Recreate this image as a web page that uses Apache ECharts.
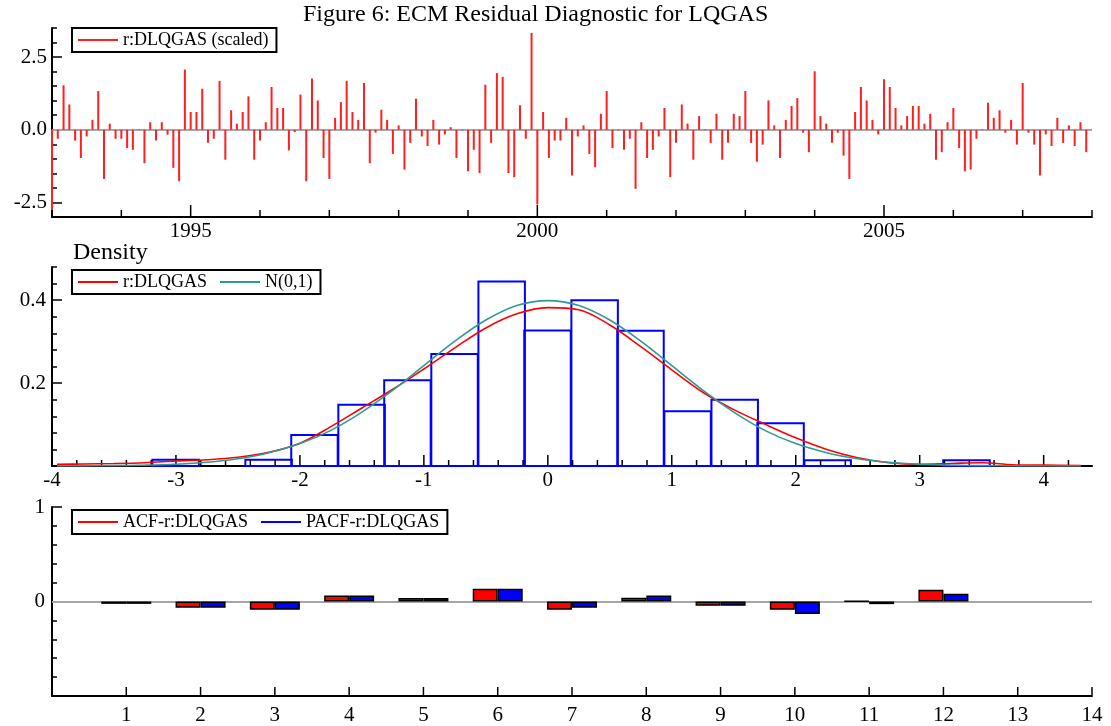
<!DOCTYPE html>
<html>
<head>
<meta charset="utf-8">
<title>ECM Residual Diagnostic for LQGAS</title>
<script src="https://cdn.jsdelivr.net/npm/echarts@6/dist/echarts.min.js"></script>
<style>
  html, body { margin: 0; padding: 0; background: #fff; }
  #main { width: 1111px; height: 726px; }
</style>
</head>
<body>
<div id="main"></div>
<script>
// scaled residuals r:DLQGAS, monthly, one array per year (Jan..Dec)
const res1993 = [-2.78, -0.31, 1.53, 0.87, -0.37, -0.97, -0.23, 0.34, 1.33, -1.69, 0.21, -0.31]
const res1994 = [-0.31, -0.63, -0.69, 0.02, -1.15, 0.26, -0.37, 0.26, -0.17, -1.31, -1.77, 2.07]
const res1995 = [0.61, 0.61, 1.41, -0.45, -0.31, 1.68, -1.03, 0.67, 0.21, 0.61, 1.15, -1.03]
const res1996 = [-0.37, 0.26, 1.47, 0.75, 0.75, -0.71, -0.08, 1.21, -1.77, 1.76, 1.01, -0.97]
const res1997 = [-1.69, 0.41, 0.95, 1.68, 0.61, 0.34, 1.61, -1.15, -0.10, 0.69, 0.34, -0.83]
const res1998 = [0.15, -1.37, -0.45, 1.07, -0.23, -0.56, 0.34, -0.51, -0.16, 0.09, -0.97, -0.02]
const res1999 = [-1.43, -0.69, -1.49, 1.55, -0.45, 1.95, 1.82, -1.49, -1.63, 0.84, -0.31, 3.33]
const res2000 = [-2.57, 0.61, -0.97, -0.37, -0.37, 0.41, -1.57, -0.23, 0.15, -0.83, -1.29, 0.55]
const res2001 = [1.33, -0.63, -0.02, -0.69, -0.31, -2.03, 0.26, -0.97, -0.69, -0.23, 0.75, -1.63]
const res2002 = [-0.45, 0.87, 0.21, -1.03, 0.47, 0.02, -0.45, 0.55, -1.03, -0.45, 0.55, 0.47]
const res2003 = [1.33, -0.45, -1.10, -0.51, 1.01, 0.15, -0.97, 0.34, 0.82, 1.09, -0.10, -0.77]
const res2004 = [2.01, 0.47, 0.21, -0.45, -0.10, -0.89, -1.69, 0.61, 1.47, 1.01, 0.34, -0.16]
const res2005 = [1.74, 1.47, 0.75, 0.15, 0.47, 0.82, 0.82, 0.21, 0.55, -1.03, -0.77, 0.26]
const res2006 = [0.75, -0.63, -1.43, -1.37, -0.31, 0.02, 0.93, 0.41, 0.67, -0.10, 0.34, -0.51]
const res2007 = [1.61, -0.10, -0.51, -1.57, -0.16, -0.56, 0.41, -0.45, 0.15, -0.56, 0.26, -0.77]
const residuals = [].concat(res1993, res1994, res1995, res1996, res1997, res1998, res1999,
  res2000, res2001, res2002, res2003, res2004, res2005, res2006, res2007)
const startYear = 1993

// histogram of residuals (density scale)
const binStart = [-3.19, -2.44, -2.07, -1.69, -1.32, -0.94, -0.56, -0.19, 0.19, 0.56, 0.94, 1.32, 1.69, 2.07, 3.19]
const binDensity = [0.015, 0.015, 0.075, 0.148, 0.207, 0.270, 0.445, 0.327, 0.400, 0.326, 0.132, 0.160, 0.103, 0.014, 0.014]
const binWidth = 0.375

// density curves read at these points
const curveX = [-3.96, -3.75, -3.5, -3.25, -3.0, -2.75, -2.5, -2.25, -2.0, -1.75, -1.5, -1.25, -1.0, -0.75, -0.5, -0.25,
  0, 0.25, 0.5, 0.75, 1.0, 1.25, 1.5, 1.75, 2.0, 2.25, 2.5, 2.75, 3.0, 3.25, 3.5, 3.75, 4.0, 4.3]
const kdeDensity = [0.004, 0.005, 0.006, 0.008, 0.012, 0.015, 0.021, 0.033, 0.055, 0.095, 0.140, 0.185, 0.234, 0.285, 0.333, 0.367,
  0.382, 0.377, 0.340, 0.288, 0.232, 0.178, 0.136, 0.101, 0.068, 0.040, 0.020, 0.008, 0.004, 0.006, 0.008, 0.003, 0.002, 0.001]
const normalDensity = [0.0002, 0.0004, 0.0009, 0.002, 0.0044, 0.009, 0.0175, 0.032, 0.054, 0.086, 0.13, 0.183, 0.242, 0.301, 0.352, 0.387,
  0.399, 0.387, 0.352, 0.301, 0.242, 0.183, 0.13, 0.086, 0.054, 0.032, 0.0175, 0.009, 0.0044, 0.002, 0.0009, 0.0004, 0.0001, 0]

// correlogram
const lags = [1, 2, 3, 4, 5, 6, 7, 8, 9, 10, 11, 12]
const acf = [-0.025, -0.066, -0.087, 0.063, 0.038, 0.136, -0.087, 0.039, -0.046, -0.088, 0.003, 0.124]
const pacf = [-0.025, -0.066, -0.087, 0.063, 0.038, 0.136, -0.067, 0.064, -0.046, -0.131, -0.028, 0.081]

// tick labels
const yearTicks = [1993, 1994, 1995, 1996, 1997, 1998, 1999, 2000, 2001, 2002, 2003, 2004, 2005, 2006, 2007, 2008]
const yearLabels = [1995, 2000, 2005]
const resTicks = [-2.5, 0, 2.5]
const resMinor = [-3, -2, -1.5, -1, -0.5, 0.5, 1, 1.5, 2, 3, 3.5]
const densXTicks = [-4, -3, -2, -1, 0, 1, 2, 3, 4]
const densYTicks = [0.2, 0.4]
const densYMinor = [0.04, 0.08, 0.12, 0.16, 0.24, 0.28, 0.32, 0.36, 0.44, 0.48]
const lagTicks = [1, 2, 3, 4, 5, 6, 7, 8, 9, 10, 11, 12, 13, 14]
const corrTicks = [0, 1]
const corrMinor = [-0.8, -0.6, -0.4, -0.2, 0.2, 0.4, 0.6, 0.8]

const font = 'Liberation Serif'
const black = '#000'
const tickStyle = { color: black, width: 1.5 }

// bottom-axis tick positions and their lengths in px
const yearTickLen = yearTicks.map(y => (yearLabels.indexOf(y) >= 0 ? 11 : 6))
const densTickPos = []
const densTickLen = []
for (let k = -20; k <= 21; k++) {
  densTickPos.push(Math.round(k * 20) / 100)
  densTickLen.push(k % 5 === 0 ? 10 : 5)
}
const lagTickLen = lagTicks.map(() => 8)

function labelStyle(labels, formatter, margin) {
  return {
    show: true,
    customValues: labels,
    formatter: formatter,
    color: black,
    fontFamily: font,
    fontSize: 21,
    margin: margin
  }
}

function xAxisFor(gridIndex, min, max, labels, margin) {
  return {
    type: 'value',
    gridIndex: gridIndex,
    position: 'bottom',
    min: min,
    max: max,
    interval: 1,
    axisLine: { show: true, onZero: false, lineStyle: { color: black, width: 2 } },
    axisTick: { show: false },
    axisLabel: labelStyle(labels, v => String(v), margin),
    splitLine: { show: false }
  }
}

// y axes: long ticks at labelled values
function yAxisFor(gridIndex, min, max, ticks, formatter, margin) {
  return {
    type: 'value',
    gridIndex: gridIndex,
    position: 'left',
    min: min,
    max: max,
    axisLine: { show: true, onZero: false, lineStyle: { color: black, width: 2 } },
    axisTick: { show: true, inside: true, length: 10, customValues: ticks, lineStyle: tickStyle },
    axisLabel: labelStyle(ticks, formatter, margin),
    splitLine: { show: false }
  }
}

// extra y axis on the left, only used to draw shorter ticks
function minorYAxis(gridIndex, min, max, ticks) {
  return {
    type: 'value',
    gridIndex: gridIndex,
    position: 'left',
    min: min,
    max: max,
    axisLine: { show: false, onZero: false },
    axisTick: { show: true, inside: true, length: 5, customValues: ticks, lineStyle: tickStyle },
    axisLabel: { show: false },
    splitLine: { show: false }
  }
}

// tick marks standing on the bottom axis line, placed through the axis scale
function tickSeries(xAxisIndex, yAxisIndex, yBase, positions, lengths) {
  return {
    type: 'custom',
    silent: true,
    clip: false,
    z: 3,
    xAxisIndex: xAxisIndex,
    yAxisIndex: yAxisIndex,
    encode: { x: 0, y: 1 },
    data: positions.map(v => [v, yBase]),
    renderItem: function(params, api) {
      const p = api.coord([api.value(0), api.value(1)])
      const len = lengths[params.dataIndex]
      return {
        type: 'line',
        shape: { x1: p[0], y1: p[1] - 1, x2: p[0], y2: p[1] - 1 - len },
        style: { stroke: black, lineWidth: 1.5, fill: null }
      }
    }
  }
}

const zeroLine = {
  silent: true,
  symbol: 'none',
  z: 1,
  label: { show: false },
  lineStyle: { color: '#a6a6a6', width: 2, type: 'solid' },
  data: [{ yAxis: 0 }]
}

const legendBase = {
  orient: 'horizontal',
  icon: 'rect',
  itemWidth: 40,
  itemHeight: 2,
  itemGap: 13,
  padding: [3, 8, 3, 6],
  borderColor: black,
  borderWidth: 2,
  backgroundColor: '#fff',
  selectedMode: false,
  itemStyle: { borderWidth: 0 },
  textStyle: { fontFamily: font, fontSize: 18, color: black }
}

const chart = echarts.init(document.getElementById('main'))

const option = {
  animation: false,
  backgroundColor: '#fff',
  title: [
    {
      text: 'Figure 6: ECM Residual Diagnostic for LQGAS',
      left: 303,
      top: 3,
      padding: 0,
      textStyle: { fontFamily: font, fontSize: 24, fontWeight: 'normal', color: black }
    },
    {
      text: 'Density',
      left: 73,
      top: 241,
      padding: 0,
      textStyle: { fontFamily: font, fontSize: 24, fontWeight: 'normal', color: black }
    }
  ],
  legend: [
    Object.assign({}, legendBase, { data: ['r:DLQGAS (scaled)'], left: 72, top: 28 }),
    Object.assign({}, legendBase, { data: ['r:DLQGAS', 'N(0,1)'], left: 72, top: 270 }),
    Object.assign({}, legendBase, { data: ['ACF-r:DLQGAS', 'PACF-r:DLQGAS'], left: 72, top: 510 })
  ],
  grid: [
    { left: 52, right: 19, top: 28, height: 189 },
    { left: 52, right: 19, top: 267, height: 199 },
    { left: 52, right: 19, top: 507, height: 196 }
  ],
  xAxis: [
    xAxisFor(0, 1993, 2008, yearLabels, 4),
    xAxisFor(1, -4, 4.39, densXTicks, 4),
    xAxisFor(2, 0, 14, lagTicks, 9)
  ],
  yAxis: [
    yAxisFor(0, -3, 3.5, resTicks, v => v.toFixed(1), 5),
    minorYAxis(0, -3, 3.5, resMinor),
    yAxisFor(1, 0, 0.48, densYTicks, v => v.toFixed(1), 6),
    minorYAxis(1, 0, 0.48, densYMinor),
    yAxisFor(2, -1, 1, corrTicks, v => String(v), 7),
    minorYAxis(2, -1, 1, corrMinor)
  ],
  series: [
    {
      name: 'r:DLQGAS (scaled)',
      type: 'bar',
      xAxisIndex: 0,
      yAxisIndex: 0,
      barWidth: 2,
      itemStyle: { color: '#ff1f1f' },
      data: residuals.map((v, i) => [startYear + i / 12, v]),
      markLine: zeroLine
    },
    {
      name: 'histogram',
      type: 'custom',
      xAxisIndex: 1,
      yAxisIndex: 2,
      encode: { x: [0, 1], y: 2 },
      data: binStart.map((s, i) => [s, s + binWidth, binDensity[i]]),
      renderItem: function(params, api) {
        const p0 = api.coord([api.value(0), api.value(2)])
        const p1 = api.coord([api.value(1), 0])
        return {
          type: 'rect',
          shape: { x: p0[0], y: p0[1], width: p1[0] - p0[0], height: p1[1] - p0[1] },
          style: { fill: 'none', stroke: '#0000ff', lineWidth: 2 }
        }
      }
    },
    {
      name: 'r:DLQGAS',
      type: 'line',
      xAxisIndex: 1,
      yAxisIndex: 2,
      showSymbol: false,
      smooth: 0.35,
      itemStyle: { color: '#ff0000' },
      lineStyle: { color: '#ff0000', width: 1.6 },
      data: curveX.map((x, i) => [x, kdeDensity[i]])
    },
    {
      name: 'N(0,1)',
      type: 'line',
      xAxisIndex: 1,
      yAxisIndex: 2,
      showSymbol: false,
      smooth: 0.35,
      itemStyle: { color: '#2f9a94' },
      lineStyle: { color: '#2f9a94', width: 1.6 },
      data: curveX.map((x, i) => [x, normalDensity[i]])
    },
    {
      name: 'ACF-r:DLQGAS',
      type: 'bar',
      xAxisIndex: 2,
      yAxisIndex: 4,
      barWidth: 25,
      barGap: '0%',
      itemStyle: { color: '#ff0000', borderColor: black, borderWidth: 1.5 },
      data: lags.map((l, i) => [l, acf[i]]),
      markLine: zeroLine
    },
    {
      name: 'PACF-r:DLQGAS',
      type: 'bar',
      xAxisIndex: 2,
      yAxisIndex: 4,
      barWidth: 25,
      barGap: '0%',
      itemStyle: { color: '#0000ff', borderColor: black, borderWidth: 1.5 },
      data: lags.map((l, i) => [l, pacf[i]])
    },
    tickSeries(0, 0, -3, yearTicks, yearTickLen),
    tickSeries(1, 2, 0, densTickPos, densTickLen),
    tickSeries(2, 4, -1, lagTicks, lagTickLen)
  ]
}

chart.setOption(option)
</script>
</body>
</html>
